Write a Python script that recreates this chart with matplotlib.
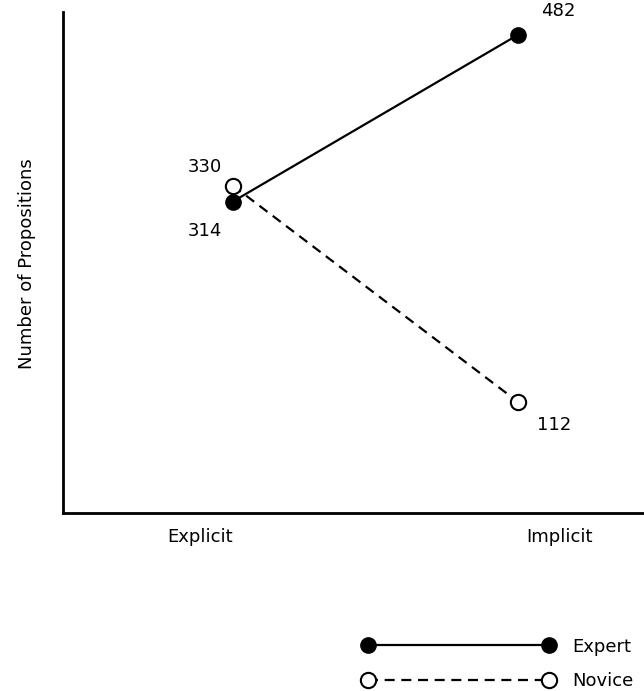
import matplotlib
matplotlib.use("Agg")
import matplotlib.pyplot as plt

# data
conditions = ['Explicit', 'Implicit']
expert = [314, 482]
novice = [330, 112]
groups = ['Expert', 'Novice']

plt.rcParams['font.family'] = 'DejaVu Sans'

fig = plt.figure(figsize=(6.44, 6.91), dpi=100)
ax = fig.add_axes([0.0978, 0.2576, 0.9022, 0.725])

xpos = list(range(len(conditions)))

l1, = ax.plot(xpos, expert, color='black', linewidth=1.6, marker='o',
              markersize=11, markerfacecolor='black', markeredgecolor='black',
              zorder=3, label=groups[0])
l2, = ax.plot(xpos, novice, color='black', linewidth=1.6, linestyle=(0, (4.5, 3)),
              marker='o', markersize=11, markerfacecolor='white',
              markeredgecolor='black', markeredgewidth=1.5, zorder=4, label=groups[1])

# value labels (offsets in pixels)
offsets_expert = [(-28, -29), (40, 24)]
offsets_novice = [(-28, 19), (36, -23)]
for i in xpos:
    ax.annotate(str(expert[i]), (xpos[i], expert[i]), xytext=offsets_expert[i],
                textcoords='offset pixels', ha='center', va='center', fontsize=13)
    ax.annotate(str(novice[i]), (xpos[i], novice[i]), xytext=offsets_novice[i],
                textcoords='offset pixels', ha='center', va='center', fontsize=13)

ax.set_xlim(-0.596, 1.442)
ax.set_ylim(0, 505)

ax.spines['top'].set_visible(False)
ax.spines['right'].set_visible(False)
ax.spines['left'].set_linewidth(2)
ax.spines['bottom'].set_linewidth(2)

ax.set_yticks([])
ax.set_xticks([-0.116, 1.147])
ax.set_xticklabels(conditions, fontsize=13)
ax.tick_params(axis='x', length=0, pad=11)

fig.text(27 / 644, 1 - 264 / 691, 'Number of Propositions', rotation=90,
         ha='center', va='center', fontsize=13)

fig.legend(handles=[l1, l2], loc='upper left', bbox_to_anchor=(0.563, 0.077),
           frameon=False, numpoints=2, handlelength=10.6, handletextpad=1.0,
           labelspacing=0.92, borderpad=0, borderaxespad=0, fontsize=13)

fig.savefig('out.png', dpi=100)
